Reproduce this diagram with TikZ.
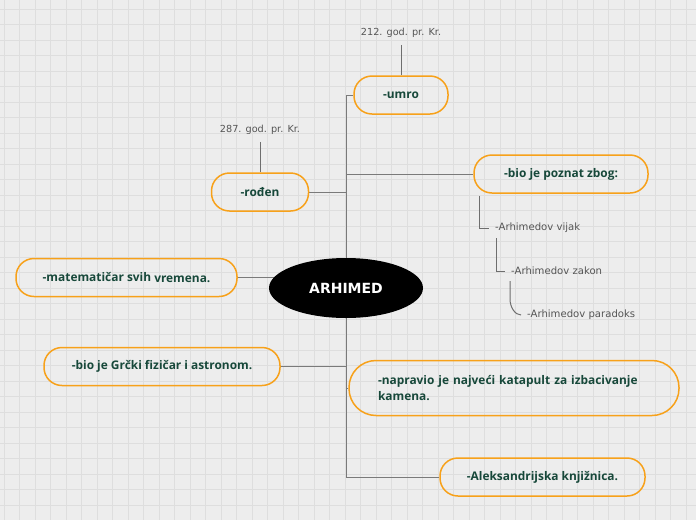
\documentclass[tikz,border=0pt]{standalone}
\usepackage{fontspec}
\setmainfont{Open Sans}
\newfontfamily\labelfont{DejaVu Sans}
\usepackage{tikz}
\usetikzlibrary{shapes.geometric,positioning,backgrounds,calc}
\definecolor{MapBack}{HTML}{EDEDED}
\definecolor{MapGrid}{HTML}{DEDEDE}
\definecolor{BoxOrange}{HTML}{F7A11A}
\definecolor{TextGreen}{HTML}{17483A}
\definecolor{LineGrey}{HTML}{7A7A7A}
\definecolor{LabelGrey}{HTML}{555555}
\tikzset{
  % Topic box
  TB/.style={rectangle,rounded corners=18pt,
             minimum height=38pt,inner sep=0pt,
             draw=BoxOrange,line width=1.5pt,text=TextGreen,
             align=center,font=\fontsize{11.9}{16}\selectfont\bfseries},
  % Central topic
  RT/.style={ellipse,fill=black,text=white,
             minimum width=154pt,minimum height=60pt,
             font=\labelfont\fontsize{14}{16}\selectfont\bfseries},
  % Plain label
  LB/.style={font=\labelfont\fontsize{9.7}{12}\selectfont,
             text=LabelGrey,inner sep=2pt},
  SB/.style={LB,font=\labelfont\fontsize{10.1}{12}\selectfont,
             anchor=west,inner xsep=6pt},
  % Lines
  con/.style={draw=LineGrey,line width=1pt},
  lcon/.style={draw=LabelGrey!85,line width=1pt}
}

\begin{document}
\begin{tikzpicture}[x=1pt,y=-1pt]
  \useasboundingbox (0,0) rectangle (696,520);
  % Paper and grid
  \begin{scope}[on background layer]
    \fill[MapBack] (0,0) rectangle (696,520);
    \foreach \gx in {4,19.5,...,696}
      \draw[MapGrid,line width=0.8pt] (\gx,0) -- (\gx,520);
    \foreach \gy in {9,24.5,...,520}
      \draw[MapGrid,line width=0.8pt] (0,\gy) -- (696,\gy);
  \end{scope}

  \node[RT] (arh) at (346,288) {ARHIMED};

  \node[TB,minimum width=94pt]  (umro)  at (401,95)  {-umro};
  \node[LB] (umrogod)  at (401,33)  {212. god. pr. Kr.};
  \node[TB,minimum width=97pt]  (roden) at (260,192) {-rođen};
  \node[LB] (rodengod) at (260,130) {287. god. pr. Kr.};

  \node[TB,minimum width=174pt] (poznat) at (561,174) {-bio je poznat zbog:};
  \node[SB] (vijak)    at (489,228) {-Arhimedov vijak};
  \node[SB] (zakon)    at (505,271) {-Arhimedov zakon};
  \node[SB] (paradoks) at (521,315) {-Arhimedov paradoks};

  \node[TB,minimum width=221pt] (matem) at (126.5,277.5)
    {-matematičar svih \raisebox{-1.5pt}{vremena.}};
  \node[TB,minimum width=236pt] (grcki) at (162,366.5)
    {-bio je Grčki fizičar i astronom.};
  \node[TB,rounded corners=27pt,minimum height=55pt,align=left,
        text width=272pt,inner xsep=29pt] (napravio) at (514,388)
    {-napravio je najveći katapult za izbacivanje\\kamena.};
  \node[TB,minimum width=205pt] (aleks) at (542.5,477)
    {-Aleksandrijska knjižnica.};

  % Label stems
  \draw[lcon] (umrogod.south) ++(0,5) -- (umro.north);
  \draw[lcon] (rodengod.south) ++(0,5) -- (roden.north);

  % Branches from the centre
  \begin{scope}[on background layer]
    \draw[con] (arh) |- (umro.west);
    \draw[con] (arh) |- (roden.east);
    \draw[con] (arh) |- (poznat.west);
    \draw[con] (arh) |- (matem.east);
    \draw[con] (arh) |- (grcki.east);
    \draw[con] (arh) |- (napravio.west);
    \draw[con] (arh) |- (aleks.west);
  \end{scope}

  % Sub items
  \draw[lcon] ($(poznat.south west)+(6,2)$) |- (vijak.west);
  \draw[lcon] ($(vijak.south west)+(7,3)$) |- (zakon.west);
  \draw[lcon] ($(zakon.south west)+(5,4)$) -- ++(0,18)
    .. controls +(0,8) and +(-6,0) .. (paradoks.west);
\end{tikzpicture}
\end{document}
